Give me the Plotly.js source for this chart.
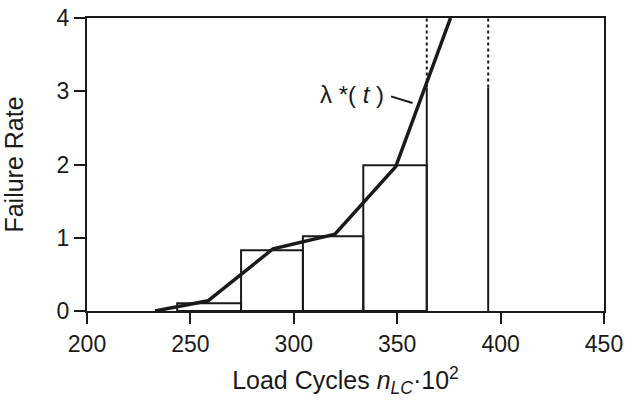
<!DOCTYPE html>
<html>
<head>
<meta charset="utf-8">
<script src="https://cdn.plot.ly/plotly-3.0.1.min.js"></script>
<style>html,body{margin:0;padding:0;background:#fff;}#chart{width:632px;height:407px;}</style>
</head>
<body>
<div id="chart"></div>
<script>
// Histogram bin edges (load cycles ·10^2) and bar heights (failure rate)
const binEdges = [243.6, 274.5, 304.4, 333.6, 364.3];
const binHeights = [0.105, 0.83, 1.02, 1.99];
// Last (open) bin: edges, solid part height, dotted continuation to top
const openBinEdges = [364.3, 394.0];
const openBinSolidTop = 3.05;
const openBinDottedTop = 4.0;
// Fitted failure-rate curve lambda*(t)
const curveX = [232.9, 258.5, 290.0, 319.9, 349.3, 375.8];
const curveY = [0.0, 0.14, 0.85, 1.05, 1.97, 4.0];
// Label and its leader line
const labelText = "λ *( <i>t</i> )";
const labelPos = [328.0, 2.95];
const leaderX = [347.0, 357.4];
const leaderY = [2.93, 2.84];
// Axis ticks
const xTicks = [200, 250, 300, 350, 400, 450];
const yTicks = [0, 1, 2, 3, 4];

const ink = '#1a1a1a';
const font = 'Liberation Sans, Arial, Helvetica, sans-serif';

const barX = [], barW = [];
for (let i = 0; i < binHeights.length; i++) {
  barX.push((binEdges[i] + binEdges[i + 1]) / 2);
  barW.push(binEdges[i + 1] - binEdges[i]);
}

const solidX = [], solidY = [], dotX = [], dotY = [];
openBinEdges.forEach(e => {
  solidX.push(e, e, null); solidY.push(0, openBinSolidTop, null);
  dotX.push(e, e, null); dotY.push(openBinSolidTop, openBinDottedTop, null);
});

const traces = [
  {type: 'bar', x: barX, y: binHeights, width: barW,
   marker: {color: 'rgba(0,0,0,0)', line: {color: ink, width: 2}},
   hoverinfo: 'skip', showlegend: false},
  {type: 'scatter', mode: 'lines', x: solidX, y: solidY,
   line: {color: ink, width: 2}, showlegend: false, hoverinfo: 'skip'},
  {type: 'scatter', mode: 'lines', x: dotX, y: dotY,
   line: {color: ink, width: 2, dash: 'dot'}, showlegend: false, hoverinfo: 'skip'},
  {type: 'scatter', mode: 'lines', x: curveX, y: curveY,
   line: {color: ink, width: 3.5}, showlegend: false, hoverinfo: 'skip'},
  {type: 'scatter', mode: 'lines', x: leaderX, y: leaderY,
   line: {color: ink, width: 2}, showlegend: false, hoverinfo: 'skip'}
];

const layout = {
  width: 632, height: 407,
  margin: {l: 87, r: 28, t: 18, b: 96},
  paper_bgcolor: '#fff', plot_bgcolor: '#fff',
  font: {family: font, color: ink, size: 23},
  bargap: 0,
  showlegend: false,
  xaxis: {
    range: [200, 450], tickvals: xTicks, ticktext: xTicks.map(String),
    showgrid: false, zeroline: false,
    showline: true, linecolor: ink, linewidth: 2, mirror: true,
    ticks: 'outside', ticklen: 11, tickwidth: 2, tickcolor: ink,
    tickfont: {size: 23, family: font, color: ink},
    title: {text: 'Load Cycles <i>n</i><sub><i>LC</i></sub>·10<sup>2</sup>',
            font: {size: 25, family: font, color: ink}, standoff: 16},
    automargin: false, fixedrange: true
  },
  yaxis: {
    range: [0, 4], tickvals: yTicks, ticktext: yTicks.map(String),
    showgrid: false, zeroline: false,
    showline: true, linecolor: ink, linewidth: 2, mirror: true,
    ticks: 'outside', ticklen: 11, tickwidth: 2, tickcolor: ink,
    tickfont: {size: 23, family: font, color: ink},
    title: {text: 'Failure Rate', font: {size: 25, family: font, color: ink}, standoff: 26},
    automargin: false, fixedrange: true
  },
  annotations: [{
    x: labelPos[0], y: labelPos[1], xref: 'x', yref: 'y',
    text: labelText, showarrow: false,
    font: {size: 24, family: font, color: ink}
  }]
};

Plotly.newPlot('chart', traces, layout, {staticPlot: true, displayModeBar: false});
</script>
</body>
</html>
